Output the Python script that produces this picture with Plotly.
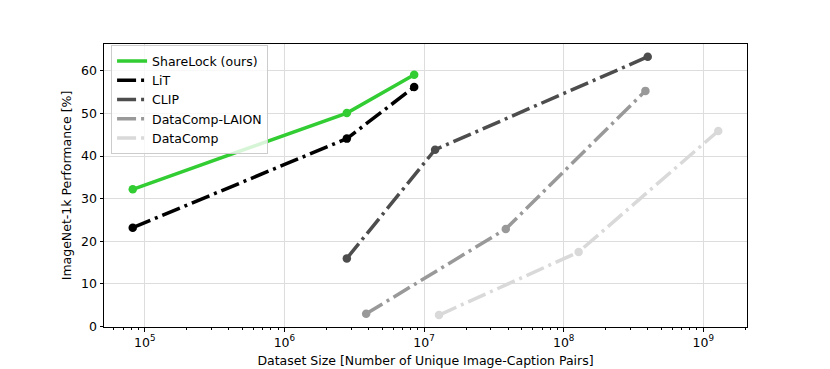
import plotly.graph_objects as go

# ---- data ----
series_names = ["ShareLock (ours)", "LiT", "CLIP", "DataComp-LAION", "DataComp"]

sharelock_x = [8.2e4, 2.8e6, 8.5e6]
sharelock_y = [32.2, 50.1, 59.1]

lit_x = [8.2e4, 2.8e6, 8.5e6]
lit_y = [23.2, 44.1, 56.2]

clip_x = [2.8e6, 1.2e7, 4.0e8]
clip_y = [16.0, 41.5, 63.3]

laion_x = [3.85e6, 3.85e7, 3.85e8]
laion_y = [3.0, 22.9, 55.3]

datacomp_x = [1.28e7, 1.28e8, 1.28e9]
datacomp_y = [2.7, 17.5, 45.9]

x_tickvals = [1e5, 1e6, 1e7, 1e8, 1e9]
x_ticktext = ["10<sup>5</sup>", "10<sup>6</sup>", "10<sup>7</sup>", "10<sup>8</sup>", "10<sup>9</sup>"]
x_minor_tickvals = [m * 10 ** e for e in range(4, 10) for m in range(2, 10)]
y_tickvals = [0, 10, 20, 30, 40, 50, 60]

xs = [sharelock_x, lit_x, clip_x, laion_x, datacomp_x]
ys = [sharelock_y, lit_y, clip_y, laion_y, datacomp_y]

# ---- styles ----
colors = ["#32cd32", "#000000", "#4d4d4d", "#999999", "#d9d9d9"]
dashes = ["solid", "19px,5px,3px,5px", "19px,5px,3px,5px", "19px,5px,3px,5px", "19px,5px,3px,5px"]
FONT = "DejaVu Sans, Liberation Sans, sans-serif"
FS = 12.5

fig = go.Figure()
for name, x, y, c, d in zip(series_names, xs, ys, colors, dashes):
    fig.add_trace(go.Scatter(
        x=x, y=y, mode="lines", name=name,
        line=dict(color=c, width=3.5, dash=d),
        legendgroup=name,
    ))
    fig.add_trace(go.Scatter(
        x=x, y=y, mode="markers", name=name, showlegend=False,
        marker=dict(color=c, size=8.5, line=dict(width=0)),
        legendgroup=name, hoverinfo="skip",
    ))

fig.update_layout(
    width=830, height=369,
    margin=dict(l=103.5, r=83.3, t=44, b=41.7, autoexpand=False),
    paper_bgcolor="white", plot_bgcolor="white",
    font=dict(family=FONT, size=FS, color="black"),
    showlegend=True,
    legend=dict(
        x=0.011, y=0.995, xanchor="left", yanchor="top",
        bgcolor="rgba(255,255,255,0.8)", bordercolor="#cccccc", borderwidth=1,
        font=dict(family=FONT, size=FS, color="black"),
        tracegroupgap=0,
    ),
)

fig.update_xaxes(
    type="log", range=[4.708, 9.313],
    tickmode="array", tickvals=x_tickvals, ticktext=x_ticktext,
    ticks="outside", ticklen=3.5, tickwidth=0.8, tickcolor="black",
    showline=True, linecolor="black", linewidth=1, mirror=True,
    showgrid=True, gridcolor="#dddddd", gridwidth=1,
    zeroline=False,
    minor=dict(tickmode="array", tickvals=x_minor_tickvals,
               ticks="outside", ticklen=2, tickwidth=0.6, tickcolor="black", showgrid=False),
    title=dict(text="Dataset Size [Number of Unique Image-Caption Pairs]", standoff=7,
               font=dict(family=FONT, size=FS)),
    tickfont=dict(family=FONT, size=FS),
)
fig.update_yaxes(
    range=[-0.1, 66.3],
    tickvals=y_tickvals,
    ticks="outside", ticklen=3.5, tickwidth=0.8, tickcolor="black",
    showline=True, linecolor="black", linewidth=1, mirror=True,
    showgrid=True, gridcolor="#dddddd", gridwidth=1,
    zeroline=False,
    title=dict(text="ImageNet-1k Performance [%]", standoff=6,
               font=dict(family=FONT, size=FS)),
    tickfont=dict(family=FONT, size=FS),
)

fig.write_html(
    "out.html",
    config={"displayModeBar": False},
    post_script="document.body.style.margin='0';document.body.style.padding='0';",
)
